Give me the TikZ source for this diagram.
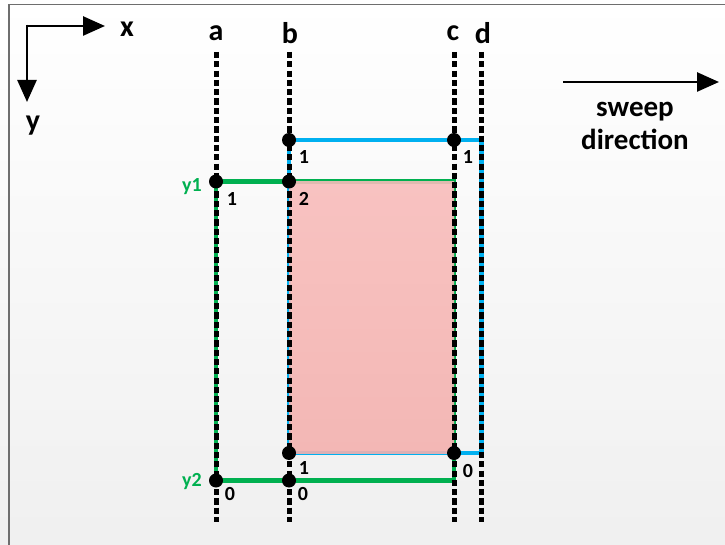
\documentclass[tikz,border=0pt]{standalone}
\usepackage{fontspec}
\setmainfont{Carlito}
\usetikzlibrary{arrows.meta}
\definecolor{myblue}{RGB}{0,176,240}
\definecolor{mygreen}{RGB}{0,176,80}
\definecolor{pinktop}{RGB}{248,189,187}
\definecolor{pinkbot}{RGB}{244,177,175}
\definecolor{frame}{RGB}{110,110,110}
\tikzset{
  sweepline/.style={black, line width=5pt, dash pattern=on 6.2pt off 3.1pt, line cap=butt},
  bluebox/.style={myblue, line width=4.6pt},
  greenbox/.style={mygreen, line width=4.6pt},
  dotmark/.style={circle, fill=black, inner sep=0pt, minimum size=14pt},
  biglbl/.style={font=\bfseries\fontsize{30}{34}\selectfont, inner sep=0pt},
  sweeplbl/.style={font=\bfseries\fontsize{29}{33}\selectfont, inner sep=0pt, align=center},
  numlbl/.style={font=\bfseries\fontsize{20}{23}\selectfont, inner sep=0pt},
  ylbl/.style={font=\bfseries\fontsize{20}{23}\selectfont, inner sep=0pt, text=mygreen},
  axisarrow/.style={line width=2.6pt, -{Triangle[length=22pt, width=19pt]}},
}
\begin{document}
\begin{tikzpicture}[x=1pt, y=-1pt]
\useasboundingbox (0,0) rectangle (725,545);
% background
\shade[top color=white, bottom color=black!6] (0,0) rectangle (725,545);
\draw[frame, line width=1.6pt] (9,548) -- (9,4.5) -- (728,4.5);

% key coordinates
\coordinate (aT) at (216,52);  \coordinate (aB) at (216,522);
\coordinate (bT) at (289,52);  \coordinate (bB) at (289,522);
\coordinate (cT) at (454,52);  \coordinate (cB) at (454,522);
\coordinate (dT) at (481.5,52);\coordinate (dB) at (481.5,522);

\coordinate (b1) at (289,140);   \coordinate (c1) at (454,140);   \coordinate (d1) at (481.5,140);
\coordinate (a2) at (216,181.5); \coordinate (b2) at (289,181.5); \coordinate (c2) at (454,181.5);
\coordinate (b3) at (289,453);   \coordinate (c3) at (454,453);   \coordinate (d3) at (481.5,453);
\coordinate (a4) at (216,480.5); \coordinate (b4) at (289,480.5); \coordinate (c4) at (454,480.5);

% colored boxes
\draw[bluebox] (b1) -- (d1) -- (d3) -- (b3) -- cycle;
\draw[greenbox] (a2) -- (c2) -- (c4) -- (a4) -- cycle;
% overlap region
\shade[top color=pinktop, bottom color=pinkbot, opacity=0.9] (b2) rectangle (c3);

% sweep lines
\draw[sweepline] (aT) -- (aB);
\draw[sweepline] (bT) -- (bB);
\draw[sweepline] (cT) -- (cB);
\draw[sweepline] (dT) -- (dB);

% line labels
\node[biglbl] (la) at (216,33) {a};
\node[biglbl] (lb) at (290,33) {b};
\node[biglbl] (lc) at (453,33) {c};
\node[biglbl] (ld) at (483,33) {d};

% dots
\node[dotmark] (pb1) at (b1) {};
\node[dotmark] (pc1) at (c1) {};
\node[dotmark] (pa2) at (a2) {};
\node[dotmark] (pb2) at (b2) {};
\node[dotmark] (pb3) at (b3) {};
\node[dotmark] (pc3) at (c3) {};
\node[dotmark] (pa4) at (a4) {};
\node[dotmark] (pb4) at (b4) {};

% counts
\node[numlbl] (n1) at (304,157) {1};
\node[numlbl] (n2) at (468,157) {1};
\node[numlbl] (n3) at (232,199) {1};
\node[numlbl] (n4) at (304,199) {2};
\node[numlbl] (n5) at (304,468) {1};
\node[numlbl] (n6) at (468,471) {0};
\node[numlbl] (n7) at (230,494) {0};
\node[numlbl] (n8) at (303,494) {0};

\node[ylbl] (y1) at (192,187) {y1};
\node[ylbl] (y2) at (192,482) {y2};

% axes
\coordinate (org) at (27,26);
\coordinate (xend) at (105,26);
\coordinate (yend) at (27,102);
\draw[axisarrow] (org) -- (xend);
\draw[axisarrow] (27,24.7) -- (yend);
\node[biglbl] (xl) at (127,29) {x};
\node[biglbl] (yl) at (33,126) {y};

% sweep direction
\coordinate (sw1) at (563,82);
\coordinate (sw2) at (719,82);
\draw[axisarrow] (sw1) -- (sw2);
\node[sweeplbl] (swl) at (635,126) {sweep\\direction};
\end{tikzpicture}
\end{document}
